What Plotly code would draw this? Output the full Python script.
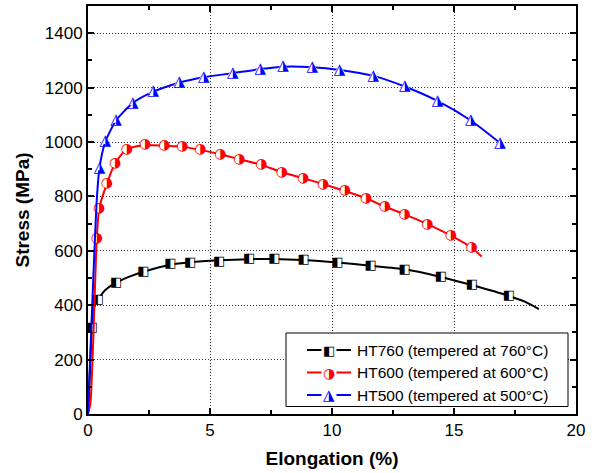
import plotly.graph_objects as go

# ---------------- data ----------------
# HT760 (black, half-filled squares)
mk760_x = [0.16, 0.41, 1.15, 2.27, 3.38, 4.19, 5.38, 6.60, 7.64, 8.84, 10.22, 11.58, 12.98, 14.46, 15.73, 17.25]
mk760_y = [316, 420, 483, 523, 552, 556, 560, 570, 571, 566, 557, 545, 532, 504, 474, 434]
cv760_x = [0, 0.08, 0.16, 0.25, 0.41, 0.7, 1.15, 1.7, 2.27, 3.38, 4.19, 5.38, 6.60, 7.64, 8.84, 10.22, 11.58, 12.98, 14.46, 15.73, 17.25, 17.9, 18.48]
cv760_y = [0, 160, 316, 392, 420, 455, 483, 505, 523, 549, 558, 565, 569, 570, 566, 557, 545, 532, 504, 474, 434, 413, 386]

# HT600 (red, half-filled circles)
mk600_x = [0.36, 0.46, 0.77, 1.11, 1.59, 2.34, 3.13, 3.87, 4.60, 5.42, 6.20, 7.10, 7.95, 8.82, 9.64, 10.53, 11.40, 12.17, 12.98, 13.91, 14.87, 15.72]
mk600_y = [646, 756, 846, 922, 974, 989, 986, 983, 971, 955, 937, 916, 889, 867, 845, 820, 793, 762, 734, 698, 656, 612]
cv600_x = [0, 0.1, 0.36, 0.46, 0.77, 1.11, 1.59, 2.34, 3.13, 3.87, 4.60, 5.42, 6.20, 7.10, 7.95, 8.82, 9.64, 10.53, 11.40, 12.17, 12.98, 13.91, 14.87, 15.72, 16.13]
cv600_y = [0, 40, 646, 756, 846, 922, 974, 989, 986, 983, 971, 955, 937, 916, 889, 867, 845, 820, 793, 762, 734, 698, 656, 612, 579]

# HT500 (blue, half-filled triangles)
mk500_x = [0.47, 0.71, 1.15, 1.83, 2.68, 3.74, 4.74, 5.93, 7.06, 7.99, 9.19, 10.31, 11.69, 12.98, 14.32, 15.69, 16.89]
mk500_y = [904, 1001, 1079, 1143, 1185, 1218, 1238, 1253, 1268, 1277, 1275, 1265, 1243, 1204, 1151, 1079, 996]
cv500_x = [0, 0.36, 0.47, 0.71, 1.15, 1.83, 2.68, 3.74, 4.74, 5.93, 7.06, 7.99, 9.19, 10.31, 11.69, 12.98, 14.32, 15.69, 16.89]
cv500_y = [0, 787, 904, 1001, 1079, 1143, 1185, 1218, 1238, 1253, 1268, 1277, 1275, 1265, 1243, 1204, 1151, 1079, 996]

names = ["HT760 (tempered at 760\u00b0C)", "HT600 (tempered at 600\u00b0C)", "HT500 (tempered at 500\u00b0C)"]
colors = ["#000000", "#ff0000", "#0000ff"]
glyphs = ["\u25e7", "\u25d1", "\u25ee"]
backs = ["square", "circle", "triangle-up"]
glyph_sizes = [13, 14, 15]
back_sizes = [8, 9, 9]

x_ticks = [0, 5, 10, 15, 20]
y_ticks = [0, 200, 400, 600, 800, 1000, 1200, 1400]

FONT = "Liberation Sans, Arial, Helvetica, sans-serif"
GFONT = "DejaVu Sans"

fig = go.Figure()
curves = [(cv760_x, cv760_y, mk760_x, mk760_y), (cv600_x, cv600_y, mk600_x, mk600_y), (cv500_x, cv500_y, mk500_x, mk500_y)]
for i, (cx, cy, mx, my) in enumerate(curves):
    fig.add_trace(go.Scatter(x=cx, y=cy, mode="lines", name=names[i], showlegend=False,
                             line=dict(color=colors[i], width=2, shape="spline", smoothing=0.6),
                             hoverinfo="skip"))
    fig.add_trace(go.Scatter(x=mx, y=my, mode="markers+text", name=names[i], showlegend=False,
                             marker=dict(symbol=backs[i], size=back_sizes[i], color="white", line=dict(width=0)),
                             text=[glyphs[i]] * len(mx), textposition="middle center",
                             textfont=dict(family=GFONT, size=glyph_sizes[i], color=colors[i])))

# ---- legend (drawn in paper coordinates) ----
L, R, T, B = 88, 576, 6, 414
def px(xp):
    return (xp - L) / (R - L)
def py(yp):
    return (B - yp) / (B - T)

shapes = [dict(type="rect", xref="paper", yref="paper", x0=px(286), x1=px(568), y0=py(406.5), y1=py(333),
               line=dict(color="black", width=1), fillcolor="white", layer="above")]
annotations = []
rows = [350, 372.5, 395]
for i, yy in enumerate(rows):
    shapes.append(dict(type="line", xref="paper", yref="paper", x0=px(307), x1=px(351), y0=py(yy), y1=py(yy),
                       line=dict(color=colors[i], width=2), layer="above"))
    annotations.append(dict(xref="paper", yref="paper", x=px(329), y=py(yy), text=glyphs[i], showarrow=False,
                            font=dict(family=GFONT, size=glyph_sizes[i], color=colors[i]),
                            xanchor="center", yanchor="middle", bgcolor="white"))
    annotations.append(dict(xref="paper", yref="paper", x=px(355), y=py(yy), text=names[i], showarrow=False,
                            font=dict(family=FONT, size=15.5, color="black"), xanchor="left", yanchor="middle"))

axis_common = dict(showline=True, linewidth=2, linecolor="black", mirror="allticks",
                   ticks="inside", ticklen=6, tickwidth=1.5, tickcolor="black",
                   showgrid=True, gridcolor="#333333", gridwidth=1, griddash="1px,2px",
                   zeroline=False, automargin=False, tickfont=dict(family=FONT, size=17, color="black"))

fig.update_layout(
    width=596, height=473,
    margin=dict(l=L, r=596 - R, t=T, b=473 - B),
    paper_bgcolor="white", plot_bgcolor="white",
    showlegend=False,
    xaxis=dict(range=[0, 20], tickvals=x_ticks, ticktext=[str(v) for v in x_ticks],
               minor=dict(dtick=2.5, ticks="inside", ticklen=4, tickcolor="black", showgrid=False),
               title=dict(text="<b>Elongation (%)</b>", font=dict(family=FONT, size=19, color="black"), standoff=12),
               **axis_common),
    yaxis=dict(range=[0, 1500], tickvals=y_ticks, ticktext=[str(v) for v in y_ticks],
               minor=dict(dtick=100, ticks="inside", ticklen=4, tickcolor="black", showgrid=False),
               title=dict(text="<b>Stress (MPa)</b>", font=dict(family=FONT, size=19, color="black"), standoff=10),
               **axis_common),
    shapes=shapes, annotations=annotations,
)

fig.write_html("out.html")
